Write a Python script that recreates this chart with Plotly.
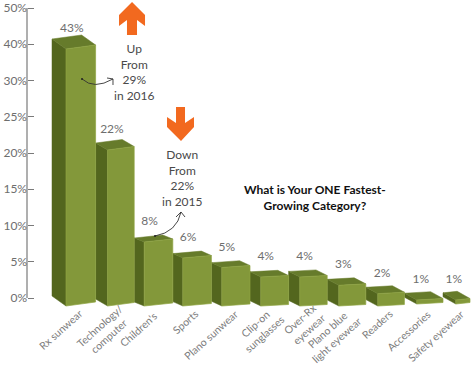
import numpy as np
import plotly.graph_objects as go

categories = ["Rx sunwear", "Technology/<br>computer", "Children's", "Sports", "Plano sunwear",
              "Clip-on<br>sunglasses", "Over-Rx<br>eyewear", "Plano blue<br>light eyewear",
              "Readers", "Accessories", "Safety eyewear"]
values = [43, 22, 8, 6, 5, 4, 4, 3, 2, 1, 1]
tick_labels = ["0%", "5%", "10%", "15%", "20%", "25%", "30%", "40%", "50%"]

W, H = 471, 366
FONT = "Lato"
GREY = "#6e6e6e"
FRONT, SIDE, TOP = "#83983a", "#53661e", "#667b2b"
ORANGE = "#f2691f"

# chart scale: one x unit is one category slot, one y unit is one (unevenly labelled) tick step
PX_SLOT, X0 = 38.6, 57.0
PX_TICK, Y0 = 36.25, 298.0
PLOT_BOTTOM = 310.0
BASE = -8.0 / PX_TICK


def height(v):
    # the reference's value scale is not linear
    return np.interp(v, [0, 1, 4, 6, 8, 22, 43, 50], [0, 4, 29, 48, 64, 156, 257, 290]) / PX_TICK


fig = go.Figure()
n = len(values)
geom = []
for i in range(n):
    dx = (10 + 2 * max(0, 2 - i) + 0.4 * max(0, i - 3)) / PX_SLOT
    dy = (4 + 3 * max(0, 2 - i) + 0.4 * max(0, i - 2)) / PX_TICK
    rise = max(1.5, 4 - 0.5 * i) / PX_TICK
    left = i - (5 / PX_SLOT if i == 0 else 0)
    right = min(i + 1, (470 - X0) / PX_SLOT)
    front = left + dx
    h = height(values[i])
    base = BASE + (2 / PX_TICK if values[i] <= 1 else 0)
    geom.append((left, front, right, base, h, dx, dy, rise))

for i in range(n - 1, -1, -1):
    left, front, right, base, h, dx, dy, rise = geom[i]
    t = base + h
    fig.add_trace(go.Scatter(x=[left, front, front, left, left],
                             y=[base + dy, base, t, t + dy, base + dy],
                             fill="toself", fillcolor=SIDE, mode="lines",
                             line=dict(color=SIDE, width=0.5), hoverinfo="skip"))
    fig.add_trace(go.Scatter(x=[left, front, right, right - dx, left],
                             y=[t + dy, t, t + rise, t + rise + dy, t + dy],
                             fill="toself", fillcolor=TOP, mode="lines",
                             line=dict(color=TOP, width=0.5), hoverinfo="skip"))
    fig.add_trace(go.Scatter(x=[front, right, right, front, front],
                             y=[base, base + rise, t + rise, t, base],
                             fill="toself", fillcolor=FRONT, mode="lines",
                             line=dict(color="#8fa544", width=0.7), hoverinfo="skip"))

label_x = [(g[1] + g[2]) / 2 - 9 / PX_SLOT for g in geom]
label_y = [g[3] + g[4] + 20 / PX_TICK for g in geom]
fig.add_trace(go.Scatter(x=label_x, y=label_y, mode="text", text=[f"{v}%" for v in values],
                         textposition="middle center", textfont=dict(family=FONT, size=12, color=GREY),
                         hoverinfo="skip"))


def P(x, y):
    return f"{x / W:.4f},{1 - y / H:.4f}"


def poly(points):
    return "M " + " L ".join(P(*p) for p in points) + " Z"


shapes = [
    dict(type="line", xref="paper", yref="paper", x0=27 / W, x1=27 / W, y0=1 - 8 / H, y1=1 - 298 / H,
         line=dict(color="#7a7a7a", width=1.2)),
    dict(type="path", xref="paper", yref="paper", fillcolor=ORANGE, line=dict(width=0),
         path=poly([(132, 2), (145, 15), (145, 26), (137, 20), (137, 35), (127, 35), (127, 20), (119, 26), (119, 15)])),
    dict(type="path", xref="paper", yref="paper", fillcolor=ORANGE, line=dict(width=0),
         path=poly([(176, 107), (185, 107), (185, 123), (194, 117), (194, 127), (181, 141), (167, 127), (167, 117), (176, 123)])),
    dict(type="path", xref="paper", yref="paper", line=dict(color="#333333", width=0.9),
         path=f"M {P(82, 79)} Q {P(94, 90)} {P(113, 79)} M {P(107, 78)} L {P(113, 79)} L {P(113, 85)}"),
    dict(type="path", xref="paper", yref="paper", line=dict(color="#333333", width=0.9),
         path=f"M {P(155, 236)} Q {P(177, 232)} {P(181, 212)} M {P(176, 217)} L {P(181, 212)} L {P(185, 217)}"),
]
for cx, cy in [(82, 79), (155, 236)]:
    shapes.append(dict(type="circle", xref="paper", yref="paper", fillcolor="#222222", line=dict(width=0),
                       x0=(cx - 1) / W, x1=(cx + 1) / W, y0=1 - (cy + 1) / H, y1=1 - (cy - 1) / H))


def note(text, x, y, size, color, bold=False):
    return dict(text=f"<b>{text}</b>" if bold else text, xref="paper", yref="paper", x=x / W, y=1 - y / H,
                showarrow=False, xanchor="center", yanchor="middle", align="center",
                font=dict(family=FONT, size=size, color=color))


annotations = [
    note("Up<br>From<br>29%<br>in 2016", 134, 72, 12, "#4a4a4a"),
    note("Down<br>From<br>22%<br>in 2015", 182, 178, 12, "#4a4a4a"),
    note("What is Your ONE Fastest-<br>Growing Category?", 315, 197, 12, "#111111", bold=True),
]

# rotated category labels, each ending just below the front face of its bar
ANGLE = 42
CHAR_W = 5.2
for label, g in zip(categories, geom):
    lines = label.split("<br>")
    w = max(len(s) for s in lines) * CHAR_W
    two = len(lines) > 1
    end_x = (g[1] + g[2]) / 2 + (5 / PX_SLOT if two else 0)
    end_y = 312 if two else 312
    c = np.cos(np.radians(ANGLE)) * w / 2
    s = np.sin(np.radians(ANGLE)) * w / 2
    annotations.append(dict(text=label, xref="x", yref="paper", x=end_x - c / PX_SLOT, y=1 - (end_y + s) / H,
                            showarrow=False, xanchor="center", yanchor="middle", align="center",
                            textangle=-ANGLE, font=dict(family=FONT, size=10.5, color="#7c7c7c")))

fig.update_layout(
    width=W, height=H, margin=dict(l=0, r=0, t=0, b=0), autosize=False,
    paper_bgcolor="white", plot_bgcolor="white", showlegend=False,
    shapes=shapes, annotations=annotations,
    xaxis=dict(range=[-X0 / PX_SLOT, (W - X0) / PX_SLOT], domain=[0, 1], showgrid=False, zeroline=False,
               showticklabels=False, ticks="", automargin=False),
    yaxis=dict(range=[(Y0 - PLOT_BOTTOM) / PX_TICK, Y0 / PX_TICK], domain=[1 - PLOT_BOTTOM / H, 1],
               anchor="free", position=27 / W, showgrid=False, zeroline=False, showline=False,
               tickvals=list(range(len(tick_labels))), ticktext=tick_labels, ticks="inside", ticklen=6,
               tickcolor="#7a7a7a", tickwidth=1.2, tickfont=dict(family=FONT, size=12, color=GREY),
               automargin=False),
)
fig.write_html("out.html", config=dict(displayModeBar=False),
               post_script="document.body.style.margin='0';document.documentElement.style.overflow='hidden';")
